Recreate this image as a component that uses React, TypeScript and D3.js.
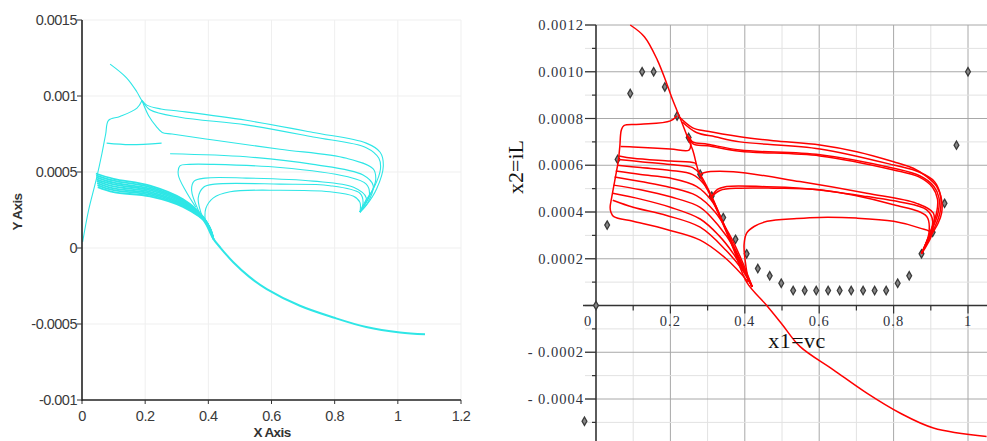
import React from "react";
import * as d3 from "d3";

type P = [number, number];

// ---------- Left panel (cyan) ----------
const leftXTicks = [0, 0.2, 0.4, 0.6, 0.8, 1, 1.2];
const leftXTickLabels = ["0", "0.2", "0.4", "0.6", "0.8", "1", "1.2"];
const leftYTicks = [-0.001, -0.0005, 0, 0.0005, 0.001, 0.0015];
const leftYTickLabels = ["-0.001", "-0.0005", "0", "0.0005", "0.001", "0.0015"];

const cyanTop1: P[] = [[0.089, 0.00121], [0.141, 0.00112], [0.173, 0.00103], [0.19, 0.00097], [0.205, 0.00094], [0.25, 0.000915], [0.31, 0.0009], [0.52, 0.00084], [0.732, 0.00076], [0.9, 0.00069], [0.944, 0.00063], [0.954, 0.00054], [0.933, 0.00039], [0.9, 0.00028], [0.88, 0.000236]];
const cyanTop2: P[] = [[0.19, 0.00097], [0.215, 0.00091], [0.31, 0.00086], [0.52, 0.00081], [0.732, 0.00073], [0.9, 0.00066], [0.94, 0.00059], [0.945, 0.00052], [0.925, 0.0004], [0.895, 0.0003], [0.88, 0.000236]];
const cyanTop3: P[] = [[0.19, 0.00097], [0.211, 0.00087], [0.235, 0.0008], [0.254, 0.00076], [0.285, 0.00075], [0.416, 0.00071], [0.627, 0.00065], [0.838, 0.00059], [0.922, 0.00052], [0.93, 0.00045], [0.915, 0.00036], [0.88, 0.000236]];
const cyanColumn: P[] = [[0.19, 0.00097], [0.174, 0.00092], [0.12, 0.000865], [0.084, 0.00084], [0.075, 0.00075], [0.063, 0.00062], [0.045, 0.00045], [0.021, 0.00025], [0.002, 0.00004]];
const cyanShort: P[] = [[0.078, 0.00069], [0.152, 0.00068], [0.252, 0.00069]];
const cyanMid1: P[] = [[0.279, 0.00062], [0.52, 0.0006], [0.732, 0.00055], [0.89, 0.00048], [0.922, 0.00041], [0.905, 0.0003], [0.88, 0.000236]];
const cyanMid2: P[] = [[0.36, 0.00027], [0.33, 0.00037], [0.305, 0.00048], [0.31, 0.00054], [0.34, 0.00055], [0.416, 0.00055], [0.627, 0.00053], [0.838, 0.00047], [0.9, 0.00042], [0.91, 0.00035], [0.88, 0.000236]];
const cyanMid3: P[] = [[0.37, 0.00024], [0.347, 0.00038], [0.355, 0.00044], [0.39, 0.00046], [0.52, 0.00046], [0.732, 0.00044], [0.86, 0.0004], [0.9, 0.00033], [0.88, 0.000236]];
const cyanMid4: P[] = [[0.38, 0.00021], [0.368, 0.00033], [0.385, 0.0004], [0.42, 0.00042], [0.627, 0.00042], [0.785, 0.00041], [0.88, 0.00036], [0.89, 0.0003], [0.88, 0.000236]];
const cyanMid5: P[] = [[0.39, 0.00018], [0.392, 0.00026], [0.416, 0.00033], [0.469, 0.00037], [0.627, 0.00038], [0.785, 0.00037], [0.86, 0.00034], [0.88, 0.0003], [0.88, 0.000236]];
const cyanBand1: P[] = [[0.044, 0.00049], [0.1, 0.000455], [0.215, 0.00041], [0.32, 0.00032], [0.385, 0.0002], [0.416, 0.00006]];
const cyanBand2: P[] = [[0.045, 0.000478], [0.1, 0.000443], [0.215, 0.0004], [0.32, 0.000312], [0.387, 0.000193], [0.416, 0.00006]];
const cyanBand3: P[] = [[0.046, 0.000465], [0.1, 0.00043], [0.215, 0.00039], [0.32, 0.000305], [0.389, 0.000186], [0.416, 0.00006]];
const cyanBand4: P[] = [[0.046, 0.000452], [0.1, 0.000418], [0.215, 0.00038], [0.32, 0.000297], [0.391, 0.00018], [0.416, 0.00006]];
const cyanBand5: P[] = [[0.047, 0.00044], [0.1, 0.000405], [0.215, 0.00037], [0.32, 0.00029], [0.393, 0.000173], [0.416, 0.00006]];
const cyanBand6: P[] = [[0.048, 0.000427], [0.1, 0.000392], [0.215, 0.00036], [0.32, 0.000283], [0.395, 0.000166], [0.416, 0.00006]];
const cyanBand7: P[] = [[0.049, 0.000414], [0.1, 0.00038], [0.215, 0.00035], [0.32, 0.000276], [0.397, 0.00016], [0.416, 0.00006]];
const cyanBand8: P[] = [[0.05, 0.0004], [0.1, 0.000367], [0.215, 0.00034], [0.32, 0.00027], [0.399, 0.000153], [0.416, 0.00006]];
const cyanTail: P[] = [[0.38, 0.0002], [0.395, 0.00015], [0.416, 0.00006], [0.437, 0.000005], [0.479, -0.000094], [0.53, -0.00019], [0.585, -0.00027], [0.69, -0.00038], [0.796, -0.000457], [0.9, -0.00052], [1.007, -0.000556], [1.086, -0.000568]];

const cyanCurves: P[][] = [cyanTop1, cyanTop2, cyanTop3, cyanColumn, cyanShort, cyanMid1, cyanMid2, cyanMid3, cyanMid4, cyanMid5];
const cyanBand: P[][] = [cyanBand1, cyanBand2, cyanBand3, cyanBand4, cyanBand5, cyanBand6, cyanBand7, cyanBand8];

// ---------- Right panel (red) ----------
const rightXTicks = [0, 0.2, 0.4, 0.6, 0.8, 1];
const rightXTickLabels = ["0", "0.2", "0.4", "0.6", "0.8", "1"];
const rightYTicks = [-0.0004, -0.0002, 0.0002, 0.0004, 0.0006, 0.0008, 0.001, 0.0012];
const rightYTickLabels = ["- 0.0004", "- 0.0002", "0.0002", "0.0004", "0.0006", "0.0008", "0.0010", "0.0012"];

const redSeparatrix: P[] = [[0.092, 0.0012], [0.13, 0.00115], [0.165, 0.00105], [0.19, 0.00095], [0.206, 0.00088], [0.229, 0.00079], [0.246, 0.00072], [0.26, 0.000665], [0.277, 0.000567], [0.309, 0.000466], [0.34, 0.000353], [0.37, 0.00024], [0.405, 0.0001], [0.459, 0.0], [0.5, -0.00008], [0.548, -0.000175], [0.638, -0.000275], [0.728, -0.000375], [0.817, -0.00046], [0.907, -0.000524], [1.05, -0.00056]];
const redOuter: P[] = [[0.218, 0.000812], [0.2, 0.00079], [0.12, 0.000775], [0.075, 0.00077], [0.068, 0.00075], [0.064, 0.00068], [0.06, 0.00062], [0.05, 0.00053], [0.042, 0.00046], [0.038, 0.00042], [0.04, 0.0004], [0.048, 0.00038], [0.1, 0.00036], [0.19, 0.000325], [0.28, 0.00028], [0.35, 0.0002], [0.41, 0.0001]];
const redLineA: P[] = [[0.066, 0.00068], [0.1, 0.000678], [0.2, 0.00067], [0.25, 0.000665], [0.255, 0.00069], [0.252, 0.00072]];
const redLineB: P[] = [[0.062, 0.00064], [0.1, 0.00063], [0.2, 0.000618], [0.265, 0.00061], [0.27, 0.000603]];
const redC1: P[] = [[0.06, 0.000625], [0.12, 0.000615], [0.2, 0.000603], [0.26, 0.00059], [0.28, 0.00056], [0.31, 0.00047], [0.34, 0.00036], [0.38, 0.00022], [0.42, 0.00008]];
const redC2: P[] = [[0.057, 0.0006], [0.12, 0.00059], [0.2, 0.000578], [0.26, 0.00056], [0.29, 0.00052], [0.315, 0.00045], [0.345, 0.00034], [0.38, 0.00021], [0.42, 0.00008]];
const redC3: P[] = [[0.053, 0.000575], [0.12, 0.00056], [0.2, 0.000545], [0.27, 0.00051], [0.31, 0.00045], [0.34, 0.00036], [0.38, 0.00021], [0.42, 0.00008]];
const redC4: P[] = [[0.05, 0.00055], [0.12, 0.00053], [0.2, 0.000505], [0.27, 0.00047], [0.32, 0.0004], [0.36, 0.0003], [0.39, 0.0002], [0.42, 0.00008]];
const redC5: P[] = [[0.047, 0.000515], [0.12, 0.000495], [0.2, 0.000465], [0.28, 0.00042], [0.33, 0.00034], [0.37, 0.00025], [0.4, 0.00015], [0.42, 0.00008]];
const redC6: P[] = [[0.045, 0.00048], [0.12, 0.000455], [0.2, 0.00042], [0.28, 0.00037], [0.33, 0.0003], [0.37, 0.00022], [0.4, 0.00014], [0.42, 0.00008]];
const redC7: P[] = [[0.045, 0.00045], [0.1, 0.00042], [0.19, 0.000385], [0.28, 0.000335], [0.35, 0.000235], [0.39, 0.00016], [0.42, 0.00008]];
const redT1: P[] = [[0.225, 0.000805], [0.26, 0.00076], [0.3, 0.000745], [0.387, 0.000722], [0.477, 0.000705], [0.602, 0.000687], [0.701, 0.000658], [0.8, 0.000615], [0.853, 0.000587], [0.889, 0.000551], [0.916, 0.000509], [0.929, 0.000452], [0.929, 0.000395], [0.92, 0.000353], [0.902, 0.000303], [0.875, 0.000222]];
const redT2: P[] = [[0.232, 0.000785], [0.27, 0.00074], [0.32, 0.000722], [0.387, 0.0007], [0.602, 0.00067], [0.8, 0.000601], [0.87, 0.00057], [0.91, 0.00053], [0.926, 0.00047], [0.925, 0.0004], [0.912, 0.00034], [0.895, 0.00029], [0.875, 0.000222]];
const redT3: P[] = [[0.245, 0.00073], [0.26, 0.0007], [0.3, 0.00069], [0.387, 0.000665], [0.602, 0.000645], [0.8, 0.000587], [0.87, 0.000555], [0.908, 0.00051], [0.922, 0.00046], [0.92, 0.0004], [0.905, 0.00033], [0.875, 0.000222]];
const redT4: P[] = [[0.252, 0.00072], [0.262, 0.00069], [0.3, 0.000683], [0.387, 0.00066], [0.602, 0.00064], [0.8, 0.00058], [0.868, 0.00055], [0.905, 0.000505], [0.918, 0.000455], [0.916, 0.0004], [0.9, 0.00032], [0.875, 0.000222]];
const redM1: P[] = [[0.28, 0.00056], [0.29, 0.000568], [0.369, 0.000572], [0.548, 0.00053], [0.728, 0.00048], [0.862, 0.000437], [0.907, 0.000395], [0.905, 0.00033], [0.875, 0.000222]];
const redM2: P[] = [[0.311, 0.000466], [0.324, 0.000494], [0.351, 0.000509], [0.459, 0.000508], [0.548, 0.000502], [0.638, 0.000487], [0.728, 0.000466], [0.817, 0.000443], [0.889, 0.000409], [0.905, 0.00036], [0.875, 0.000222]];
const redM3: P[] = [[0.311, 0.000466], [0.333, 0.000492], [0.387, 0.000502], [0.477, 0.000502], [0.602, 0.000495], [0.8, 0.000431], [0.889, 0.000381], [0.895, 0.00031], [0.875, 0.000222]];
const redLoop: P[] = [[0.41, 0.0001], [0.402, 0.00018], [0.398, 0.00026], [0.405, 0.00031], [0.425, 0.000338], [0.46, 0.00036], [0.54, 0.000372], [0.6, 0.000377], [0.7, 0.000374], [0.8, 0.00036], [0.871, 0.000331], [0.902, 0.00031], [0.89, 0.00026], [0.875, 0.000222]];

const redCurves: P[][] = [redSeparatrix, redOuter, redLineA, redLineB, redC1, redC2, redC3, redC4, redC5, redC6, redC7, redT1, redT2, redT3, redT4, redM1, redM2, redM3, redLoop];

const pointX = [-0.031, 0, 0.03, 0.058, 0.092, 0.124, 0.155, 0.185, 0.218, 0.249, 0.28, 0.311, 0.342, 0.375, 0.405, 0.435, 0.467, 0.498, 0.53, 0.561, 0.592, 0.624, 0.655, 0.686, 0.718, 0.749, 0.78, 0.811, 0.842, 0.875, 0.905, 0.937, 0.969, 1.0];
const pointY = [-0.000495, 0.0, 0.000344, 0.000625, 0.000907, 0.001, 0.001, 0.000935, 0.000811, 0.000719, 0.000562, 0.000468, 0.000376, 0.000283, 0.000221, 0.000158, 0.000127, 0.0000954, 0.000064, 0.000064, 0.000064, 0.000064, 0.000064, 0.000064, 0.000064, 0.000064, 0.000064, 0.0000954, 0.000127, 0.000221, 0.000313, 0.000437, 0.000686, 0.001];

export default function App() {
  const xL = d3.scaleLinear().domain([0, 1.2]).range([82, 461]);
  const yL = d3.scaleLinear().domain([-0.001, 0.0015]).range([400, 20]);
  const xR = d3.scaleLinear().domain([0, 1]).range([596, 968]);
  const yR = d3.scaleLinear().domain([-0.0004, 0.0012]).range([399, 25]);

  const lineL = d3.line<P>().x((d) => xL(d[0])).y((d) => yL(d[1])).curve(d3.curveCatmullRom.alpha(0.5));
  const lineR = d3.line<P>().x((d) => xR(d[0])).y((d) => yR(d[1])).curve(d3.curveCatmullRom.alpha(0.5));

  const rXMinor = d3.range(0.1, 1.06, 0.1);
  const rYMinor = d3.range(-0.0005, 0.00121, 0.0001);
  const diamond = d3.symbol().type(d3.symbolDiamond).size(20)();

  const serif = "'Liberation Serif', 'Times New Roman', serif";
  const sans = "'Liberation Sans', Arial, sans-serif";

  return (
    <svg width={987} height={441} style={{ position: "absolute", left: 0, top: 0, background: "#fff" }}>
      <rect x={0} y={0} width={987} height={441} fill="#fff" />
      {/* ===== LEFT PANEL ===== */}
      <g>
        {leftXTicks.slice(1).map((t) => (
          <line key={"lgx" + t} x1={xL(t)} x2={xL(t)} y1={yL(0.0015)} y2={yL(-0.001)} stroke="#efefef" strokeWidth={1} />
        ))}
        {leftYTicks.slice(1).map((t) => (
          <line key={"lgy" + t} x1={xL(0)} x2={xL(1.2)} y1={yL(t)} y2={yL(t)} stroke="#efefef" strokeWidth={1} />
        ))}
        <g fill="none" stroke="#2ee6e6" strokeWidth={1.1}>
          {cyanCurves.map((c, i) => (
            <path key={"cy" + i} d={lineL(c) || ""} />
          ))}
          {cyanBand.map((c, i) => (
            <path key={"cb" + i} d={lineL(c) || ""} strokeWidth={1.8} />
          ))}
          <path d={lineL(cyanTail) || ""} strokeWidth={2} />
        </g>
        <line x1={xL(0)} x2={xL(0)} y1={yL(0.0015)} y2={yL(-0.001) + 1} stroke="#222" strokeWidth={1.6} />
        <line x1={xL(0)} x2={xL(1.2)} y1={yL(-0.001)} y2={yL(-0.001)} stroke="#222" strokeWidth={1.6} />
        {leftYTicks.map((t, i) => (
          <g key={"lyt" + t}>
            <line x1={xL(0) - 5} x2={xL(0)} y1={yL(t)} y2={yL(t)} stroke="#333" strokeWidth={1} />
            <text x={xL(0) - 5} y={yL(t)} dy="0.35em" textAnchor="end" fontFamily={sans} fontSize={14.5} fill="#3a3a3a" letterSpacing={-0.5}>
              {leftYTickLabels[i]}
            </text>
          </g>
        ))}
        {leftXTicks.map((t, i) => (
          <g key={"lxt" + t}>
            <line x1={xL(t)} x2={xL(t)} y1={yL(-0.001)} y2={yL(-0.001) + 4} stroke="#333" strokeWidth={1} />
            <text x={xL(t)} y={416} dy="0.35em" textAnchor="middle" fontFamily={sans} fontSize={14.5} fill="#3a3a3a" letterSpacing={-0.5}>
              {leftXTickLabels[i]}
            </text>
          </g>
        ))}
        <text x={272} y={432} dy="0.35em" textAnchor="middle" fontFamily={sans} fontWeight="bold" fontSize={13.5} fill="#333" letterSpacing={-0.6}>
          X Axis
        </text>
        <text transform="translate(17,212) rotate(-90)" dy="0.35em" textAnchor="middle" fontFamily={sans} fontWeight="bold" fontSize={13.5} fill="#333" letterSpacing={-0.6}>
          Y Axis
        </text>
      </g>

      {/* ===== RIGHT PANEL ===== */}
      <g>
        {rXMinor.map((t, i) => (
          <line key={"rgx" + i} x1={xR(t)} x2={xR(t)} y1={yR(0.0012)} y2={441} stroke={i % 2 === 1 ? "#a8a8a8" : "#e2e2e2"} strokeWidth={1} />
        ))}
        {rYMinor.map((t, i) => {
          const major = Math.round(t / 0.0001) % 2 === 0;
          return (
            <line key={"rgy" + i} x1={585} x2={987} y1={yR(t)} y2={yR(t)} stroke={major ? "#a8a8a8" : "#e2e2e2"} strokeWidth={1} />
          );
        })}
        <line x1={596} x2={596} y1={yR(0.0012)} y2={441} stroke="#333" strokeWidth={1.6} />
        <line x1={583} x2={987} y1={yR(0)} y2={yR(0)} stroke="#333" strokeWidth={1.6} />
        {rYMinor.map((t, i) => (
          <line key={"rmt" + i} x1={Math.round(t / 0.0001) % 2 === 0 ? 585 : 592} x2={596} y1={yR(t)} y2={yR(t)} stroke="#333" strokeWidth={1.2} />
        ))}
        {rXMinor.map((t, i) => (
          <line key={"rxt" + i} x1={xR(t)} x2={xR(t)} y1={yR(0)} y2={yR(0) + (i % 2 === 1 ? 8 : 5)} stroke="#333" strokeWidth={1.2} />
        ))}
        {rightYTicks.map((t, i) => (
          <text key={"ryl" + t} x={584} y={yR(t)} dy="0.35em" textAnchor="end" fontFamily={serif} fontSize={14.5} fill="#2f3340" letterSpacing={1}>
            {rightYTickLabels[i]}
          </text>
        ))}
        {rightXTicks.map((t, i) => (
          <text key={"rxl" + t} x={t === 0 ? 588 : xR(t)} y={yR(0) + 15} dy="0.35em" textAnchor="middle" fontFamily={serif} fontSize={14.5} fill="#2f3340" letterSpacing={1}>
            {rightXTickLabels[i]}
          </text>
        ))}
        {pointX.map((x, i) => (
          <path key={"pt" + i} d={diamond || ""} transform={`translate(${xR(x)},${yR(pointY[i])})`} fill="#888" stroke="#3a3a3a" strokeWidth={1.3} />
        ))}
        <g fill="none" stroke="#ff0000" strokeWidth={1.5} strokeLinejoin="round">
          {redCurves.map((c, i) => (
            <path key={"rd" + i} d={lineR(c) || ""} />
          ))}
        </g>
        <text x={797} y={340} dy="0.35em" textAnchor="middle" fontFamily={serif} fontSize={22} fill="#111" letterSpacing={0.5}>
          x1=vc
        </text>
        <text transform="translate(515,167) rotate(-90)" dy="0.35em" textAnchor="middle" fontFamily={serif} fontSize={22} fill="#111">
          x2=iL
        </text>
      </g>
    </svg>
  );
}
